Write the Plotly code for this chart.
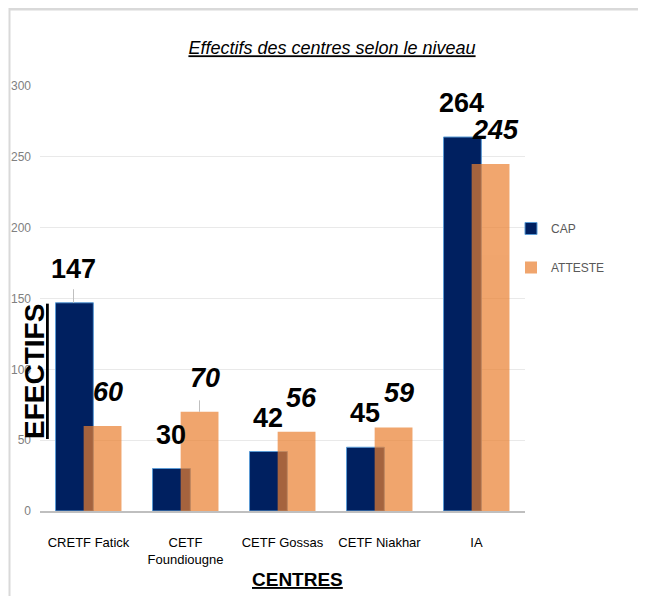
import plotly.graph_objects as go

categories = ["CRETF Fatick", "CETF<br>Foundiougne", "CETF Gossas", "CETF Niakhar", "IA"]
cap_values = [147, 30, 42, 45, 264]
atteste_values = [60, 70, 56, 59, 245]
y_ticks = [0, 50, 100, 150, 200, 250, 300]

# page body has an 8px margin; work in reference-pixel coordinates and shift
OFF = 8
W, H = 646 - OFF, 596 - OFF
PL, PR, PT, PB = 40, 525, 86, 511          # plot area in reference pixels
L, T = PL - OFF, PT - OFF
pw, ph = PR - PL, PB - PT
R, B = W - L - pw, H - T - ph

SANS = "Liberation Sans, Arial, sans-serif"


def px_x(p):
    return (p - PL) / pw


def px_y(p):
    return (PB - p) / ph


fig = go.Figure()
fig.add_trace(go.Bar(
    x=categories, y=cap_values, name="CAP",
    marker=dict(color="#002060", line=dict(color="#5b9bd5", width=1)),
    offset=-0.34, width=0.39, legendgroup="a",
))
fig.add_trace(go.Bar(
    x=categories, y=atteste_values, name="ATTESTE",
    marker=dict(color="rgb(235,128,48)", line=dict(width=0)),
    opacity=0.7, offset=-0.05, width=0.39, legendgroup="b",
))

ann = []
for c, v in zip(categories, cap_values):
    ann.append(dict(x=c, y=v, xref="x", yref="y", text=f"<b>{v}</b>", showarrow=False,
                    xshift=-15, yshift=34, font=dict(family=SANS, size=27, color="black")))
for c, v in zip(categories, atteste_values):
    ann.append(dict(x=c, y=v, xref="x", yref="y", text=f"<b><i>{v}</i></b>", showarrow=False,
                    xshift=19, yshift=34, font=dict(family=SANS, size=27, color="black")))

# leader lines (label moved away from bar): CAP of first centre, ATTESTE of second
ann.append(dict(x=categories[0], y=cap_values[0], xref="x", yref="y", text="", showarrow=True,
                arrowhead=0, arrowwidth=1, arrowcolor="#bfbfbf", ax=0, ay=-15, xshift=-15))
ann.append(dict(x=categories[1], y=atteste_values[1], xref="x", yref="y", text="", showarrow=True,
                arrowhead=0, arrowwidth=1, arrowcolor="#bfbfbf", ax=0, ay=-13, xshift=14))

# axis titles
ann.append(dict(x=px_x(35), y=px_y(372), xref="paper", yref="paper",
                text="<b><u>EFECTIFS</u></b>", textangle=-90, showarrow=False,
                xanchor="center", yanchor="middle",
                font=dict(family=SANS, size=28, color="black")))
ann.append(dict(x=px_x(297), y=px_y(579), xref="paper", yref="paper",
                text="<b><u>CENTRES</u></b>", showarrow=False,
                xanchor="center", yanchor="middle",
                font=dict(family=SANS, size=19, color="black")))

shapes = [
    dict(type="line", xref="paper", yref="paper", x0=px_x(9), x1=px_x(660), y0=px_y(9), y1=px_y(9),
         line=dict(color="#d9d9d9", width=3)),
    dict(type="line", xref="paper", yref="paper", x0=px_x(9.5), x1=px_x(9.5), y0=px_y(8), y1=px_y(610),
         line=dict(color="#d9d9d9", width=2)),
]

fig.update_layout(
    width=W, height=H,
    margin=dict(l=L, r=R, t=T, b=B, autoexpand=False),
    paper_bgcolor="white", plot_bgcolor="white",
    barmode="overlay",
    title=dict(text="<i><u>Effectifs des centres selon le niveau</u></i>",
               x=(332 - OFF) / W, xanchor="center", y=1 - (48 - OFF) / H, yanchor="middle",
               font=dict(family=SANS, size=18, color="black")),
    legend=dict(x=px_x(511), y=px_y(214), xanchor="left", yanchor="top",
                font=dict(family=SANS, size=12, color="#595959"),
                tracegroupgap=20, itemwidth=30, bgcolor="rgba(0,0,0,0)"),
    annotations=ann,
    shapes=shapes,
    showlegend=True,
)
fig.update_xaxes(range=[-0.5, 4.5], automargin=False, showgrid=False, showline=True,
                 linecolor="#bfbfbf", linewidth=2,
                 ticks="", ticklabelstandoff=18,
                 tickfont=dict(family=SANS, size=13, color="black"))
fig.update_yaxes(range=[0, 300], tickvals=y_ticks, automargin=False, showgrid=True,
                 gridcolor="#e9e9e9", gridwidth=1,
                 zeroline=False, showline=False, ticks="", ticklabelstandoff=8,
                 tickfont=dict(family=SANS, size=12, color="#808080"))

fig.write_html("out.html")
